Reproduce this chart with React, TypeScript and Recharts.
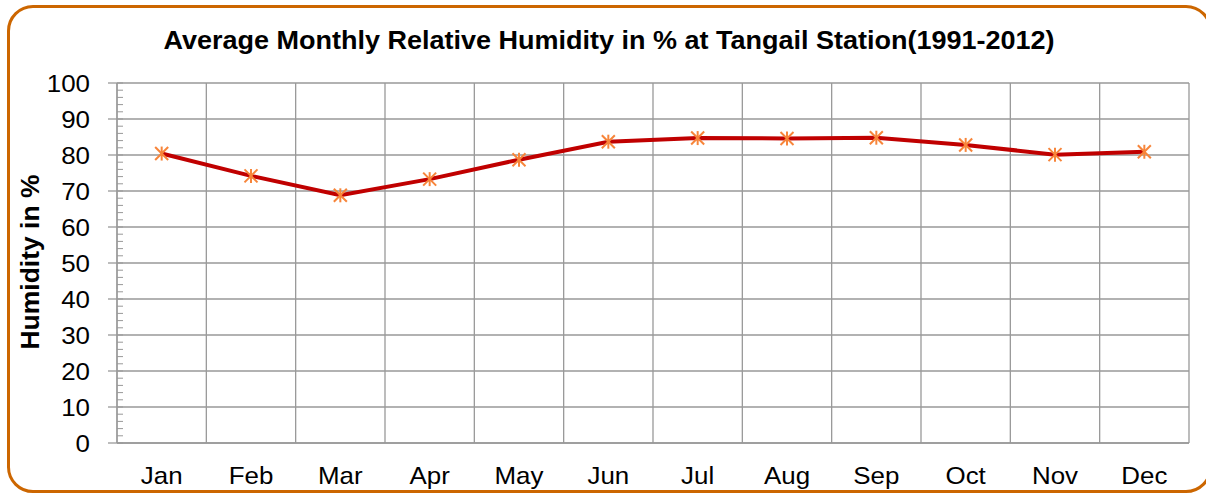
import { CartesianGrid, Line, LineChart, XAxis, YAxis } from "recharts";

const months = ["Jan", "Feb", "Mar", "Apr", "May", "Jun", "Jul", "Aug", "Sep", "Oct", "Nov", "Dec"];
const humidity = [80.4, 74.2, 68.8, 73.3, 78.7, 83.7, 84.7, 84.6, 84.8, 82.8, 80.1, 80.9];
const yTicks = [0, 10, 20, 30, 40, 50, 60, 70, 80, 90, 100];
const minorTicks = Array.from({ length: 51 }, (_, i) => i * 2);
const boundaryTicks = Array.from({ length: 13 }, (_, i) => i);

const data = months.map((month, i) => ({ month, pos: i + 0.5, humidity: humidity[i] }));
const centerTicks = data.map(d => d.pos);

const FONT = "'Liberation Sans', Arial, sans-serif";
const GRID = "#999999";
const STRETCH = 1.08;

function StarDot(props: any) {
  const { cx, cy } = props;
  if (cx == null || cy == null) return null;
  const r = 7;
  return (
    <g stroke="#F7853A" strokeWidth={2}>
      <line x1={cx} y1={cy - r} x2={cx} y2={cy + r} />
      <line x1={cx - r + 0.5} y1={cy - r + 0.5} x2={cx + r - 0.5} y2={cy + r - 0.5} />
      <line x1={cx - r + 0.5} y1={cy + r - 0.5} x2={cx + r - 0.5} y2={cy - r + 0.5} />
    </g>
  );
}

function EmptyTick() {
  return <g />;
}

function MonthTick(props: any) {
  const { x, y, payload } = props;
  const idx = Math.floor(payload.value);
  return (
    <text
      transform={`translate(${x},${y + 41}) scale(${STRETCH},1)`}
      textAnchor="middle"
      fontSize={24}
      fontFamily={FONT}
      fill="#000"
    >
      {months[idx]}
    </text>
  );
}

// x here is the axis line itself (tickSize/tickMargin are 0): major ticks point out, minor ones in
function ValueTick(props: any) {
  const { x, y, payload } = props;
  const major = payload.value % 10 === 0;
  if (!major) {
    return <line x1={x} y1={y} x2={x + 6} y2={y} stroke={GRID} strokeWidth={1} />;
  }
  return (
    <g>
      <line x1={x} y1={y} x2={x + 6} y2={y} stroke={GRID} strokeWidth={1} />
      <line x1={x - 9} y1={y} x2={x} y2={y} stroke={GRID} strokeWidth={1.3} />
      <text
        transform={`translate(${x - 27},${y + 8.5}) scale(${STRETCH},1)`}
        textAnchor="end"
        fontSize={24}
        fontFamily={FONT}
        fill="#000"
      >
        {payload.value}
      </text>
    </g>
  );
}

// vertical grid lines sit on the month boundaries, like Excel's "between tick marks"
function boundaryLines({ xAxis, offset }: any) {
  return boundaryTicks.map(t => {
    if (xAxis && typeof xAxis.scale === "function") {
      const v = xAxis.scale(t);
      if (typeof v === "number" && !isNaN(v)) return v;
    }
    return offset.left + (offset.width * t) / 12;
  });
}

function majorLines({ yAxis, offset }: any) {
  return yTicks.map(t => {
    if (yAxis && typeof yAxis.scale === "function") {
      const v = yAxis.scale(t);
      if (typeof v === "number" && !isNaN(v)) return v;
    }
    return offset.top + offset.height * (1 - t / 100);
  });
}

export default function App() {
  return (
    <div style={{ position: "absolute", left: 0, top: 0, width: 1206, height: 493, overflow: "hidden", background: "#fff" }}>
      <div
        style={{
          position: "absolute",
          left: 7,
          top: 5,
          width: 1205,
          height: 488,
          boxSizing: "border-box",
          border: "3px solid #CC6600",
          borderRadius: 26,
        }}
      />
      <div
        style={{
          position: "absolute",
          left: 0,
          top: 28,
          width: 1218,
          textAlign: "center",
          fontFamily: FONT,
          fontWeight: "bold",
          fontSize: 25,
          lineHeight: "25px",
          whiteSpace: "nowrap",
          transform: `scaleX(${STRETCH})`,
        }}
      >
        Average Monthly Relative Humidity in % at Tangail Station(1991-2012)
      </div>
      <div
        style={{
          position: "absolute",
          left: 30,
          top: 262,
          fontFamily: FONT,
          fontWeight: "bold",
          fontSize: 26.5,
          lineHeight: "26px",
          whiteSpace: "nowrap",
          transform: "translate(-50%, -50%) rotate(-90deg)",
        }}
      >
        Humidity in %
      </div>
      <div style={{ position: "absolute", left: 0, top: 0 }}>
        <LineChart width={1206} height={493} data={data} margin={{ top: 83, right: 17, bottom: 0, left: 0 }}>
          <CartesianGrid
            xAxisId="grid"
            stroke={GRID}
            strokeWidth={1.3}
            verticalCoordinatesGenerator={boundaryLines}
            horizontalCoordinatesGenerator={majorLines}
          />
          <XAxis
            xAxisId="grid"
            type="number"
            dataKey="pos"
            domain={[0, 12]}
            ticks={boundaryTicks}
            tick={<EmptyTick />}
            tickLine={false}
            axisLine={false}
            height={0}
          />
          <XAxis
            type="number"
            dataKey="pos"
            domain={[0, 12]}
            ticks={centerTicks}
            tick={<MonthTick />}
            tickLine={false}
            axisLine={{ stroke: GRID, strokeWidth: 1.3 }}
            tickSize={0}
            tickMargin={0}
            height={50}
            interval={0}
          />
          <YAxis
            domain={[0, 100]}
            ticks={minorTicks}
            width={117}
            tick={<ValueTick />}
            tickSize={0}
            tickMargin={0}
            tickLine={false}
            axisLine={{ stroke: GRID, strokeWidth: 1.3 }}
            interval={0}
          />
          <Line
            type="linear"
            dataKey="humidity"
            stroke="#C00000"
            strokeWidth={4}
            dot={<StarDot />}
            activeDot={false}
            isAnimationActive={false}
          />
        </LineChart>
      </div>
    </div>
  );
}
